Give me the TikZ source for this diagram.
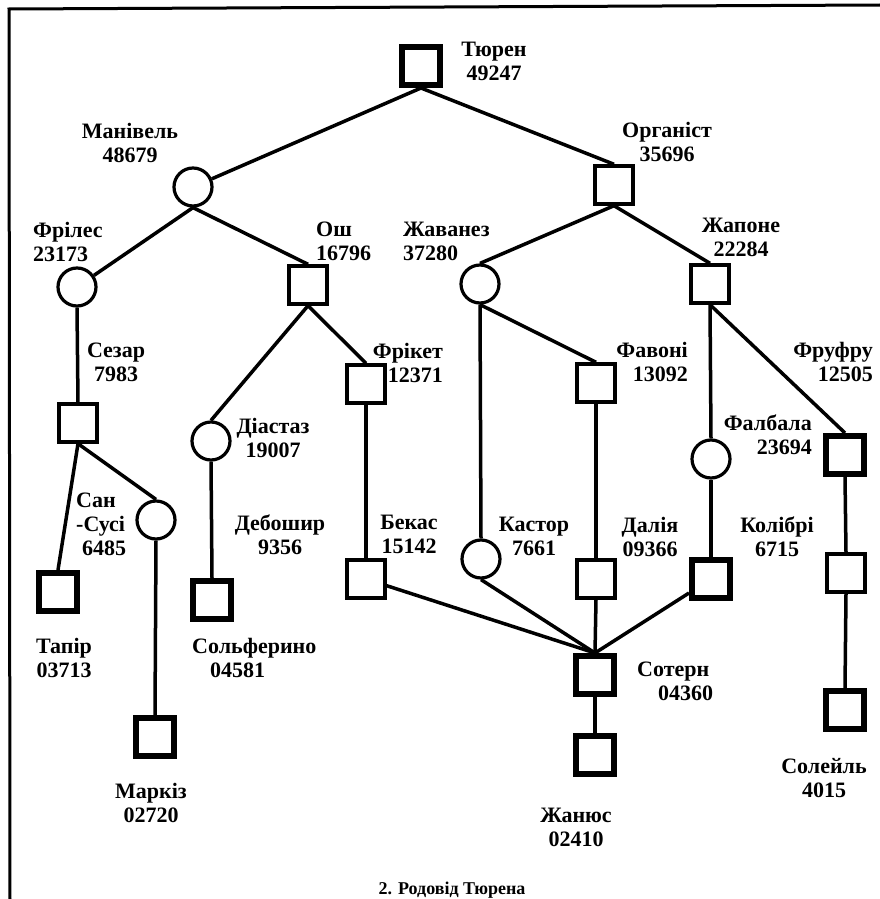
\documentclass[tikz,border=0pt]{standalone}
\usepackage{fontspec}
\setmainfont{Liberation Serif}
\begin{document}
\begin{tikzpicture}[x=1pt,y=-1pt,
  sq/.style={draw, rectangle, line width=3.4pt, minimum size=38pt, inner sep=0pt},
  tsq/.style={sq, line width=6pt},
  ci/.style={draw, circle, line width=3.2pt, minimum size=38pt, inner sep=0pt},
  edge/.style={line width=3.5pt},
  frame/.style={line width=3pt},
  lbl/.style={inner sep=0pt, font=\fontsize{22}{24}\selectfont\bfseries},
  lc/.style={lbl, anchor=north, align=center},
  ll/.style={lbl, anchor=north west, align=left},
  lr/.style={lbl, anchor=north east, align=right},
  capt/.style={inner sep=0pt, anchor=north, font=\fontsize{18}{20}\selectfont\bfseries}
]
\useasboundingbox (0,0) rectangle (880,899);
% frame
\coordinate (fr1) at (880,5);
\coordinate (fr2) at (9,9);
\coordinate (fr3) at (10,899);
\draw[frame] (fr1) -- (fr2) -- (fr3);

% individuals
\node[tsq] (T) at (421,66) {};
\node[ci] (M) at (193,187) {};
\node[sq] (O) at (614,185) {};
\node[ci] (F) at (77,287) {};
\node[sq] (Osh) at (308,285) {};
\node[ci] (Zh) at (480,284) {};
\node[sq] (Zp) at (710,284) {};
\node[sq] (Sez) at (78,423) {};
\node[ci] (Di) at (211,441) {};
\node[sq] (Fr) at (366,384) {};
\node[sq] (Fav) at (596,383) {};
\node[tsq] (Fal) at (845,455) {};
\node[ci] (Cr) at (711,459) {};
\node[ci] (SS) at (156,520) {};
\node[ci] (Kas) at (481,559) {};
\node[sq] (Bek) at (366,579) {};
\node[sq] (Dal) at (596,579) {};
\node[tsq] (Kol) at (711,579) {};
\node[sq] (R2) at (846,573) {};
\node[tsq] (Tap) at (58,592) {};
\node[tsq] (Sol) at (212,600) {};
\node[tsq] (Sot) at (595,675) {};
\node[tsq] (Zhan) at (595,755) {};
\node[tsq] (Mar) at (155,737) {};
\node[tsq] (Soley) at (845,710) {};

% connectors
\draw[edge] (T.south) -- (M);
\draw[edge] (T.south) -- (O.north);
\draw[edge] (M.south) -- (F);
\draw[edge] (M.south) -- (Osh.north);
\draw[edge] (O.south) -- (Zh.north);
\draw[edge] (O.south) -- (Zp.north);
\draw[edge] (F.south) -- (Sez.north);
\draw[edge] (Osh.south) -- (Di.north);
\draw[edge] (Osh.south) -- (Fr.north);
\draw[edge] (Sez.south) -- (Tap.north);
\draw[edge] (Sez.south) -- (SS.north);
\draw[edge] (SS.south) -- (Mar.north);
\draw[edge] (Di.south) -- (Sol.north);
\draw[edge] (Fr.south) -- (Bek.north);
\draw[edge] (Zh.south) -- (Kas.north);
\draw[edge] (Zh.south) -- (Fav.north);
\draw[edge] (Fav.south) -- (Dal.north);
\draw[edge] (Zp.south) -- (Cr.north);
\draw[edge] (Zp.south) -- (Fal.north);
\draw[edge] (Cr.south) -- (Kol.north);
\draw[edge] (Fal.south) -- (R2.north);
\draw[edge] (R2.south) -- (Soley.north);
\draw[edge] (Bek) -- (Sot.north);
\draw[edge] (Kas.south) -- (Sot.north);
\draw[edge] (Dal.south) -- (Sot.north);
\draw[edge] (Kol) -- (Sot.north);
\draw[edge] (Sot.south) -- (Zhan.north);

% labels
\node[lc] (tT) at (494,42) {Тюрен\\49247};
\node[lc] (tM) at (130,123) {Манівель\\48679};
\node[lc] (tO) at (667,122) {Органіст\\35696};
\node[ll] (tF) at (33,222) {Фрілес\\23173};
\node[ll] (tOsh) at (316,222) {Ош\\16796};
\node[ll] (tZh) at (403,222) {Жаванез\\37280};
\node[lc] (tZp) at (741,218) {Жапоне\\22284};
\node[lc] (tSez) at (116,343) {Сезар\\7983};
\node[lr] (tFr) at (443,343) {Фрікет\\12371};
\node[lr] (tFav) at (688,342) {Фавоні\\13092};
\node[lr] (tFfr) at (873,342) {Фруфру\\12505};
\node[lc] (tDi) at (273,418) {Діастаз\\19007};
\node[lr] (tFal) at (812,415) {Фалбала\\23694};
\node[ll] (tSS) at (76,493) {Сан\\-Сусі\\\hspace*{6pt}6485};
\node[lc] (tDeb) at (280,515) {Дебошир\\9356};
\node[lc] (tBek) at (409,515) {Бекас\\15142};
\node[lc] (tKas) at (534,517) {Кастор\\7661};
\node[lc] (tDal) at (650,517) {Далія\\09366};
\node[lc] (tKol) at (777,517) {Колібрі\\6715};
\node[lc] (tTap) at (64,638) {Тапір\\03713};
\node[ll] (tSol) at (192,638) {Сольферино\\\hspace*{18pt}04581};
\node[lc] (tMar) at (151,783) {Маркіз\\02720};
\node[ll] (tSot) at (637,662) {Сотерн\\\hspace*{21pt}04360};
\node[lc] (tZhan) at (576,808) {Жанюс\\02410};
\node[lc] (tSoley) at (824,758) {Солейль\\4015};
\node[capt] (cap) at (452,882) {2. Родовід Тюрена};
\end{tikzpicture}
\end{document}
